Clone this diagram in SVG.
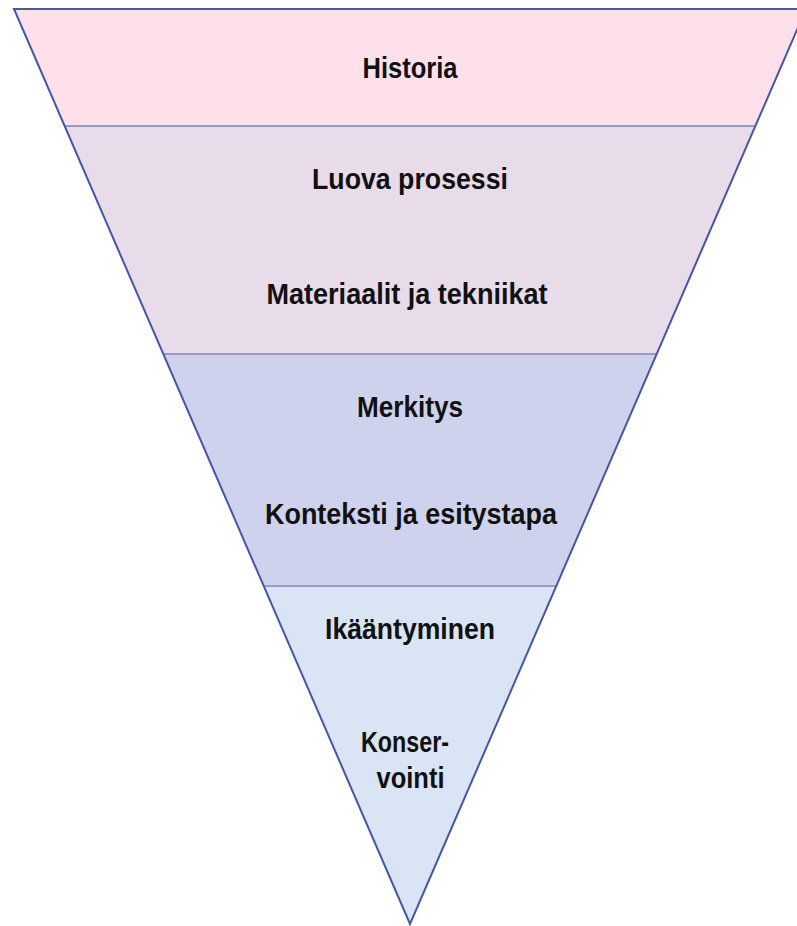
<svg xmlns="http://www.w3.org/2000/svg" width="797" height="926" viewBox="0 0 797 926">
  <style>
    .lbl { font-family: "Liberation Sans", Arial, sans-serif; font-weight: bold; font-size: 29px; fill: #111; text-anchor: middle; }
    .div { stroke: #9c97c9; stroke-width: 2; fill: none; }
  </style>
  <rect width="797" height="926" fill="#ffffff"/>
  <g id="band-historia">
    <polygon points="14,9 806,9 755.4,126 64.6,126" fill="#fde0ea"/>
    <text class="lbl" x="410" y="78" textLength="95" lengthAdjust="spacingAndGlyphs">Historia</text>
  </g>
  <g id="band-luova">
    <polygon points="64.6,126 755.4,126 656.7,354 163.3,354" fill="#e8dbea"/>
    <text class="lbl" x="410" y="189" textLength="196" lengthAdjust="spacingAndGlyphs">Luova prosessi</text>
    <text class="lbl" x="407" y="304" textLength="281" lengthAdjust="spacingAndGlyphs">Materiaalit ja tekniikat</text>
  </g>
  <g id="band-merkitys">
    <polygon points="163.3,354 656.7,354 556.3,586 263.7,586" fill="#cfd2ec"/>
    <text class="lbl" x="410" y="417" textLength="106" lengthAdjust="spacingAndGlyphs">Merkitys</text>
    <text class="lbl" x="411" y="524" textLength="292" lengthAdjust="spacingAndGlyphs">Konteksti ja esitystapa</text>
  </g>
  <g id="band-ikaantyminen">
    <polygon points="263.7,586 556.3,586 410,924" fill="#d9e4f5"/>
    <text class="lbl" x="410" y="639" textLength="170" lengthAdjust="spacingAndGlyphs">Ikääntyminen</text>
    <text class="lbl" x="405" y="752" textLength="88" lengthAdjust="spacingAndGlyphs">Konser-</text>
    <text class="lbl" x="410.5" y="788" textLength="68" lengthAdjust="spacingAndGlyphs">vointi</text>
  </g>
  <g id="connectors">
    <line class="div" x1="64.6" y1="126" x2="755.4" y2="126"/>
    <line class="div" x1="163.3" y1="354" x2="656.7" y2="354"/>
    <line class="div" x1="263.7" y1="586" x2="556.3" y2="586"/>
    <polygon points="14,9 806,9 410,924" fill="none" stroke="#4655a6" stroke-width="2" stroke-linejoin="miter"/>
  </g>
</svg>
